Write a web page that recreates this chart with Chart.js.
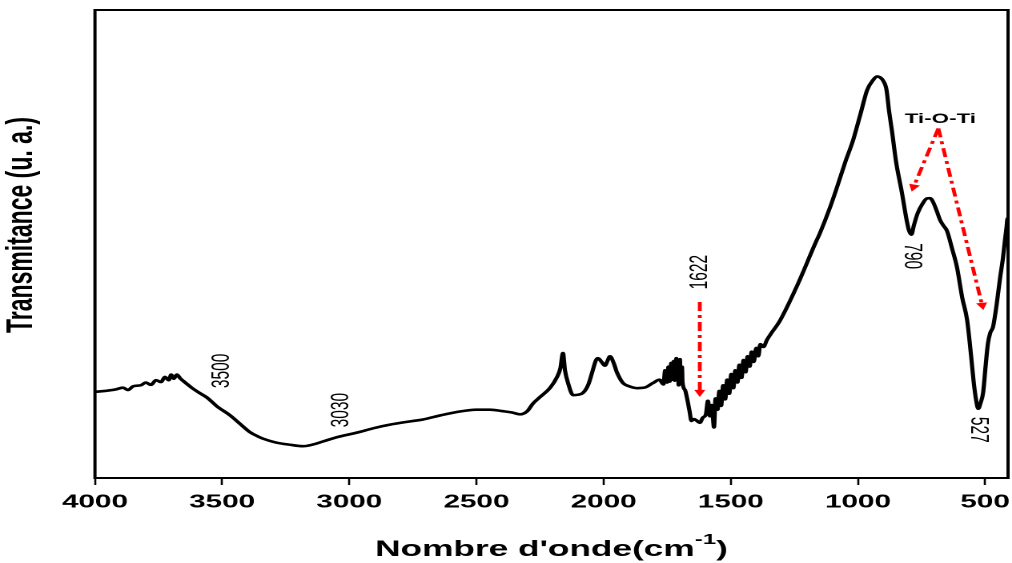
<!DOCTYPE html>
<html>
<head>
<meta charset="utf-8">
<script src="https://cdn.jsdelivr.net/npm/chart.js@4.4.1/dist/chart.umd.min.js"></script>
<style>
html, body { margin: 0; padding: 0; background: #fff; overflow: hidden; }
/* the figure is drawn narrow and stretched sideways, like the exported plot */
#wrap { width: 632px; height: 563px; transform: scaleX(1.6013); transform-origin: 0 0; }
</style>
</head>
<body>
<div id="wrap"><canvas id="ftir" width="632" height="563"></canvas></div>
<script>
const FONT = 'Liberation Sans, Arial, sans-serif';

// FTIR spectrum, wavenumber (cm-1) and transmittance (a.u.)
const wavenumbers = [4000, 3960, 3920, 3890, 3870, 3850, 3820, 3800, 3780, 3760, 3740, 3725, 3710, 3700, 3690, 3678, 3665, 3650, 3620, 3590,
    3560, 3520, 3469, 3430, 3391, 3360, 3339, 3290, 3233, 3182, 3140, 3104, 3050, 2970, 2900, 2840, 2760, 2710, 2640, 2577,
    2500, 2447, 2400, 2360, 2329, 2300, 2278, 2250, 2210, 2183, 2170, 2160, 2152, 2140, 2120, 2100, 2081, 2060, 2046, 2030,
    2022, 2008, 1995, 1985, 1975, 1960, 1948, 1924, 1900, 1869, 1840, 1806, 1780, 1765, 1758, 1751, 1745, 1740, 1734, 1730,
    1724, 1720, 1714, 1712, 1708, 1705, 1700, 1698, 1692, 1690, 1680, 1672, 1662, 1655, 1645, 1635, 1622, 1610, 1598, 1590,
    1582, 1575, 1566, 1560, 1552, 1545, 1538, 1530, 1522, 1514, 1506, 1498, 1490, 1482, 1474, 1466, 1458, 1450, 1442, 1434,
    1426, 1418, 1410, 1400, 1392, 1384, 1372, 1358, 1340, 1307, 1240, 1169, 1149, 1110, 1082, 1050, 1019, 990, 964, 941,
    925, 913, 900, 888, 878, 866, 850, 827, 810, 800, 790, 780, 765, 745, 730, 717, 705, 690, 677, 665,
    650, 630, 611, 590, 571, 555, 545, 535, 527, 518, 508, 498, 489, 480, 469, 455, 441, 430, 422, 416,
    412, 410];
const transmittance = [18.4, 18.6, 18.9, 19.3, 18.8, 19.6, 19.8, 20.4, 19.9, 20.9, 20.5, 21.6, 20.9, 22.1, 21.2, 22.1, 21.3, 20.6, 19.3, 18.2,
    17.2, 15.3, 13.4, 11.6, 9.8, 8.9, 8.4, 7.6, 7.1, 6.8, 7.2, 7.8, 8.7, 9.7, 10.7, 11.4, 12.1, 12.5, 13.4, 14.1,
    14.6, 14.6, 14.3, 14.0, 13.6, 14.3, 15.9, 17.3, 19.3, 21.6, 23.5, 26.7, 23.0, 20.3, 17.7, 17.8, 18.2, 20.0, 22.4, 25.2,
    25.6, 24.8, 24.0, 25.0, 26.0, 24.5, 22.6, 20.3, 19.6, 19.2, 19.3, 20.3, 21.0, 20.0, 23.0, 20.4, 23.8, 20.6, 24.6, 21.0,
    25.0, 20.8, 25.6, 21.4, 24.4, 19.8, 25.4, 21.6, 23.8, 20.5, 18.8, 17.0, 14.2, 12.2, 12.6, 12.3, 11.8, 12.9, 13.6, 16.5,
    13.2, 15.6, 10.8, 17.0, 14.6, 18.6, 15.4, 19.8, 16.8, 21.0, 18.0, 22.2, 19.2, 23.0, 20.4, 24.2, 21.4, 25.2, 22.6, 26.0,
    23.8, 27.0, 24.8, 27.8, 26.0, 28.6, 28.0, 29.5, 31.0, 33.6, 41.0, 50.0, 52.4, 57.8, 62.2, 67.5, 72.2, 77.8, 82.9, 85.0,
    85.8, 85.6, 84.8, 83.0, 78.5, 74.0, 67.5, 60.9, 55.5, 53.0, 52.0, 54.0, 56.6, 58.7, 59.7, 59.8, 59.0, 57.0, 55.1, 54.0,
    52.8, 49.0, 45.1, 38.5, 33.8, 26.0, 20.5, 16.5, 14.8, 16.0, 18.2, 24.0, 28.8, 31.0, 32.3, 37.0, 42.9, 47.0, 50.9, 53.5,
    55.5, 55.1];
const tickValues = [4000, 3500, 3000, 2500, 2000, 1500, 1000, 500];
const peakMarks = [3500, 3030, 1622, 790, 527];

// where each band label sits (y in a.u.) and how it is turned
const labelSpots = [
    { y: 22.9, angle: -Math.PI / 2 },
    { y: 14.5, angle: -Math.PI / 2 },
    { y: 44.0, angle: -Math.PI / 2 },
    { y: 47.4, angle: Math.PI / 2 },
    { y: 10.3, angle: Math.PI / 2 }
];

// red dash-dot arrows, [wavenumber, a.u.] from -> to
const arrows = [
    [[1622, 37.6], [1622, 17.3]],
    [[684, 74.7], [789, 61.2]],
    [[684, 74.7], [507, 35.9]]
];

const drawArrow = (ctx, x0, y0, x1, y1) => {
    const ang = Math.atan2(y1 - y0, x1 - x0);
    const head = 8;
    ctx.setLineDash([9, 4, 3, 4]);
    ctx.beginPath();
    ctx.moveTo(x0, y0);
    ctx.lineTo(x1 - Math.cos(ang) * head * 0.6, y1 - Math.sin(ang) * head * 0.6);
    ctx.stroke();
    ctx.setLineDash([]);
    ctx.beginPath();
    ctx.moveTo(x1, y1);
    ctx.lineTo(x1 - head * Math.cos(ang - 0.45), y1 - head * Math.sin(ang - 0.45));
    ctx.lineTo(x1 - head * Math.cos(ang + 0.45), y1 - head * Math.sin(ang + 0.45));
    ctx.closePath();
    ctx.fill();
};

const frameAndNotes = {
    id: 'frameAndNotes',
    afterDraw(chart) {
        const { ctx, chartArea: a, scales: { x, y } } = chart;
        ctx.save();

        // box round the plot
        ctx.strokeStyle = '#000';
        ctx.lineWidth = 2;
        ctx.strokeRect(a.left, a.top, a.right - a.left, a.bottom - a.top);

        // band labels
        ctx.fillStyle = '#000';
        ctx.font = `15.5px ${FONT}`;
        ctx.textAlign = 'center';
        ctx.textBaseline = 'middle';
        peakMarks.forEach((wn, i) => {
            ctx.save();
            ctx.translate(x.getPixelForValue(wn), y.getPixelForValue(labelSpots[i].y));
            ctx.rotate(labelSpots[i].angle);
            ctx.fillText(String(wn), 0, 0);
            ctx.restore();
        });

        ctx.font = `bold 14px ${FONT}`;
        ctx.textBaseline = 'alphabetic';
        ctx.fillText('Ti-O-Ti', x.getPixelForValue(676), y.getPixelForValue(75.9));

        // arrows
        ctx.strokeStyle = '#ff0000';
        ctx.fillStyle = '#ff0000';
        ctx.lineWidth = 2.4;
        arrows.forEach(([p, q]) => {
            drawArrow(ctx, x.getPixelForValue(p[0]), y.getPixelForValue(p[1]),
                x.getPixelForValue(q[0]), y.getPixelForValue(q[1]));
        });

        // x title with superscript
        ctx.fillStyle = '#000';
        ctx.textAlign = 'left';
        const main = "Nombre d'onde(cm", sup = '-1', close = ')';
        ctx.font = `bold 22px ${FONT}`;
        const wMain = ctx.measureText(main).width, wClose = ctx.measureText(close).width;
        ctx.font = `bold 15px ${FONT}`;
        const wSup = ctx.measureText(sup).width;
        let tx = (a.left + a.right) / 2 - (wMain + wSup + wClose) / 2;
        const base = 556;
        ctx.font = `bold 22px ${FONT}`;
        ctx.fillText(main, tx, base);
        tx += wMain;
        ctx.font = `bold 15px ${FONT}`;
        ctx.fillText(sup, tx, base - 12);
        tx += wSup;
        ctx.font = `bold 22px ${FONT}`;
        ctx.fillText(close, tx, base);

        // y title
        ctx.save();
        ctx.translate(13.7, 225);
        ctx.rotate(-Math.PI / 2);
        ctx.textAlign = 'center';
        ctx.textBaseline = 'middle';
        ctx.font = `bold 23px ${FONT}`;
        ctx.fillText('Transmitance (u. a.)', 0, 0);
        ctx.restore();

        ctx.restore();
    }
};

const points = wavenumbers.map((wn, i) => ({ x: wn, y: transmittance[i] }));

new Chart(document.getElementById('ftir'), {
    type: 'line',
    data: {
        datasets: [{
            data: points,
            borderColor: '#000',
            borderWidth: 2.6,
            pointRadius: 0,
            fill: false,
            cubicInterpolationMode: 'monotone'
        }]
    },
    options: {
        responsive: false,
        animation: false,
        devicePixelRatio: 2,
        layout: { padding: { left: 59.3, right: 2.5, top: 10, bottom: 0 } },
        plugins: { legend: { display: false }, tooltip: { enabled: false } },
        scales: {
            x: {
                type: 'linear',
                reverse: true,
                min: 410,
                max: 4000,
                afterBuildTicks: s => { s.ticks = tickValues.map(v => ({ value: v })); },
                afterFit: s => {
                    s.height = 85;
                    s.paddingLeft = 0;
                    s.paddingRight = 0;
                },
                ticks: {
                    autoSkip: false,
                    maxRotation: 0,
                    padding: 6.5,
                    color: '#000',
                    font: { family: FONT, size: 18.5, weight: 'bold' },
                    callback: v => String(v)
                },
                grid: { drawOnChartArea: false, drawTicks: true, tickLength: 7, tickWidth: 1.3, tickColor: '#000' },
                border: { color: '#000', width: 2 }
            },
            y: { display: false, min: 0, max: 100 }
        }
    },
    plugins: [frameAndNotes]
});
</script>
</body>
</html>
